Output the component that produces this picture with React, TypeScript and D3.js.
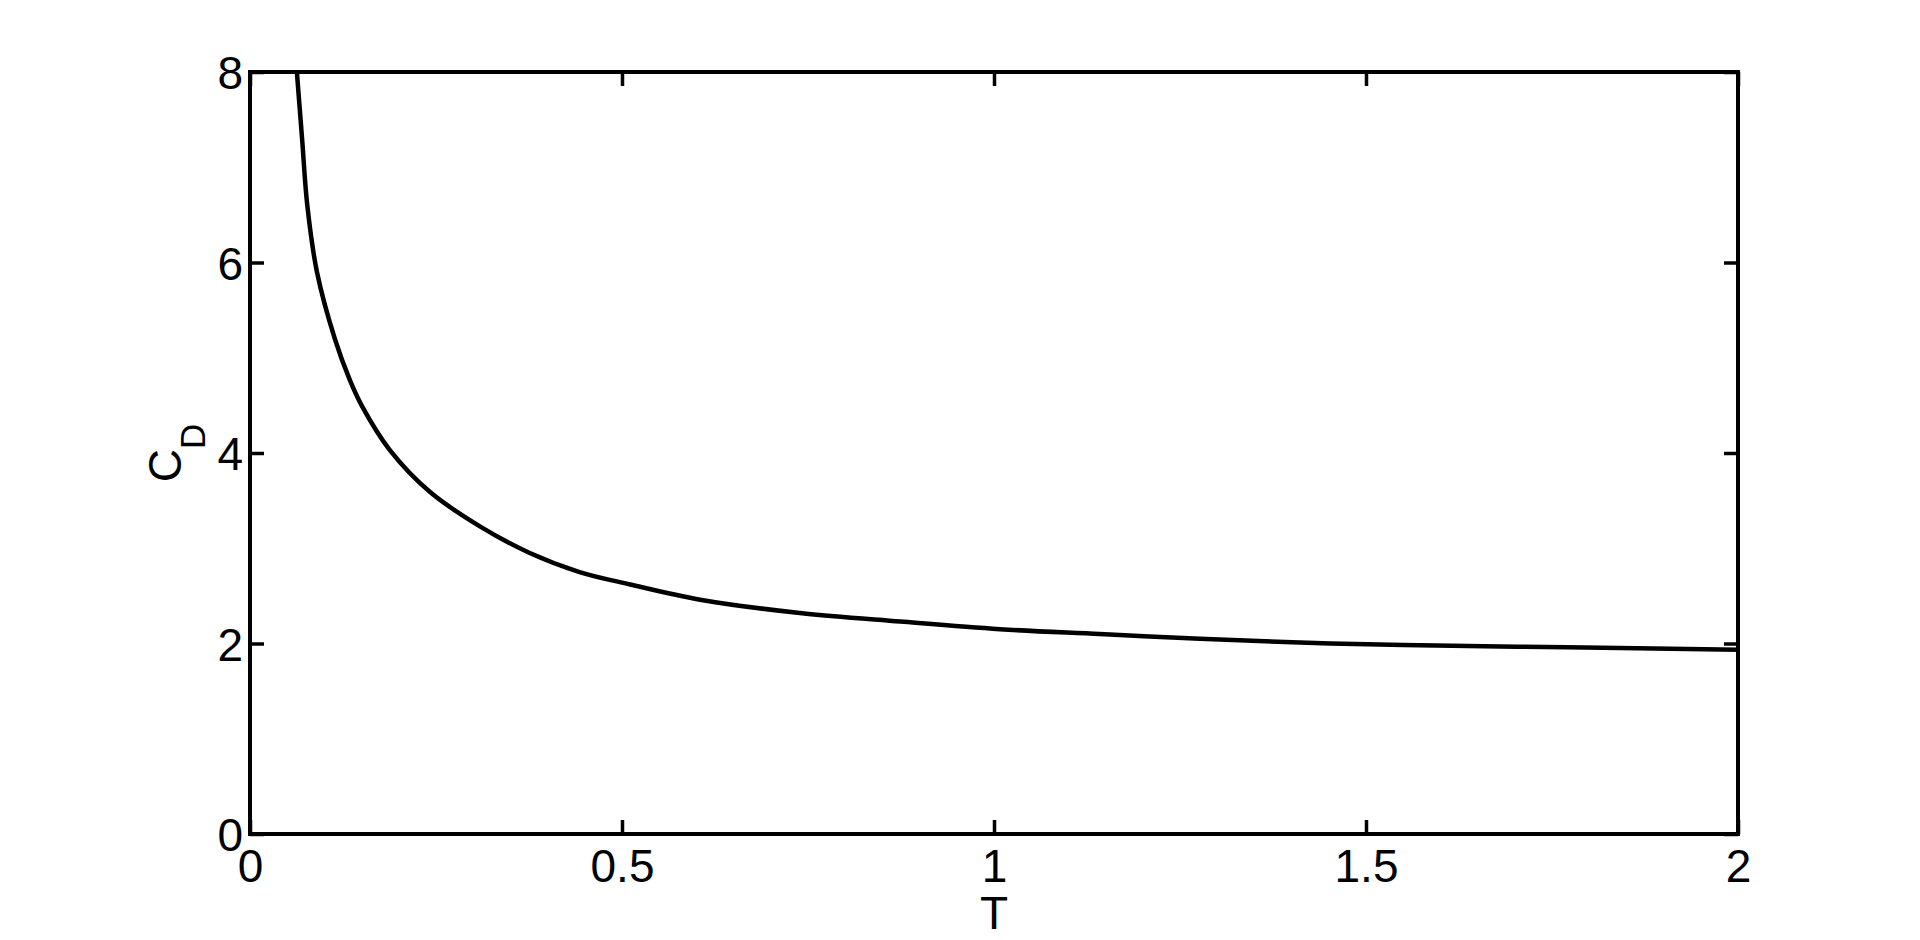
import React, { useEffect, useRef } from 'react'
import * as d3 from 'd3'

// values
const tValues = [
  0.063, 0.07, 0.077, 0.09, 0.114, 0.134, 0.15, 0.188, 0.242, 0.309, 0.376, 0.443, 0.511, 0.605,
  0.739, 0.874, 1.008, 1.142, 1.277, 1.411, 1.55, 1.77, 2.0,
]
const cdValues = [
  8.0, 7.3, 6.6, 5.9, 5.2, 4.77, 4.5, 4.03, 3.59, 3.23, 2.95, 2.75, 2.62, 2.46, 2.32, 2.23, 2.15,
  2.1, 2.05, 2.01, 1.985, 1.96, 1.935,
]
const xTicks = [0, 0.5, 1, 1.5, 2]
const xTickLabels = ['0', '0.5', '1', '1.5', '2']
const yTicks = [0, 2, 4, 6, 8]
const yTickLabels = ['0', '2', '4', '6', '8']

const App = () => {
  const svgRef = useRef<SVGSVGElement>(null)

  useEffect(() => {
    const width = 1920
    const height = 940
    const left = 250
    const right = 1738
    const top = 72
    const bottom = 834
    const font = "'Liberation Sans', Arial, sans-serif"
    const fontSize = 46

    const svg = d3.select(svgRef.current).attr('width', width).attr('height', height)
    svg.selectAll('*').remove()

    const x = d3.scaleLinear().domain([0, 2]).range([left, right])
    const y = d3.scaleLinear().domain([0, 8]).range([bottom, top])

    // clip so the curve stays inside the box
    svg
      .append('clipPath')
      .attr('id', 'plot-clip')
      .append('rect')
      .attr('x', left)
      .attr('y', top)
      .attr('width', right - left)
      .attr('height', bottom - top)

    // curve
    const pts = tValues.map((t, i) => [t, cdValues[i]] as [number, number])
    const line = d3
      .line<[number, number]>()
      .x((d) => x(d[0]))
      .y((d) => y(d[1]))
      .curve(d3.curveCatmullRom.alpha(0.5))
    svg
      .append('path')
      .datum(pts)
      .attr('d', line)
      .attr('clip-path', 'url(#plot-clip)')
      .attr('fill', 'none')
      .attr('stroke', '#000')
      .attr('stroke-width', 4.5)
      .attr('stroke-linejoin', 'round')

    // axes, ticks pointing inward
    const styleAxis = (g: any) => {
      g.select('.domain').remove()
      g.selectAll('line').attr('stroke', '#000').attr('stroke-width', 3.5)
      g.selectAll('text').attr('fill', '#000').style('font-family', font).style('font-size', `${fontSize}px`)
    }

    svg
      .append('g')
      .attr('transform', `translate(0,${bottom})`)
      .call(
        d3
          .axisBottom(x)
          .tickValues(xTicks)
          .tickSizeInner(-14)
          .tickSizeOuter(0)
          .tickPadding(15)
          .tickFormat((d, i) => xTickLabels[i]),
      )
      .call(styleAxis)

    svg
      .append('g')
      .attr('transform', `translate(0,${top})`)
      .call(d3.axisTop(x).tickValues(xTicks).tickSizeInner(-14).tickSizeOuter(0).tickFormat(() => ''))
      .call(styleAxis)

    const yAxis = svg
      .append('g')
      .attr('transform', `translate(${left},0)`)
      .call(
        d3
          .axisLeft(y)
          .tickValues(yTicks)
          .tickSizeInner(-14)
          .tickSizeOuter(0)
          .tickPadding(7)
          .tickFormat((d, i) => yTickLabels[i]),
      )
      .call(styleAxis)
    yAxis.selectAll('text').attr('dy', '0.36em')

    svg
      .append('g')
      .attr('transform', `translate(${right},0)`)
      .call(d3.axisRight(y).tickValues(yTicks).tickSizeInner(-14).tickSizeOuter(0).tickFormat(() => ''))
      .call(styleAxis)

    // box
    svg
      .append('rect')
      .attr('x', left)
      .attr('y', top)
      .attr('width', right - left)
      .attr('height', bottom - top)
      .attr('fill', 'none')
      .attr('stroke', '#000')
      .attr('stroke-width', 4)

    // axis labels
    svg
      .append('text')
      .attr('x', (left + right) / 2)
      .attr('y', 929)
      .attr('text-anchor', 'middle')
      .style('font-family', font)
      .style('font-size', `${fontSize}px`)
      .text('T')

    const yLabel = svg
      .append('text')
      .attr('transform', `translate(181,${(top + bottom) / 2}) rotate(-90)`)
      .attr('text-anchor', 'middle')
      .style('font-family', font)
      .style('font-size', `${fontSize}px`)
    yLabel.append('tspan').text('C')
    yLabel.append('tspan').attr('dy', 24).style('font-size', '35px').text('D')
  }, [])

  return (
    <div style={{ position: 'absolute', left: 0, top: 0, background: '#fff' }}>
      <svg ref={svgRef} style={{ display: 'block' }}></svg>
    </div>
  )
}

export default App
